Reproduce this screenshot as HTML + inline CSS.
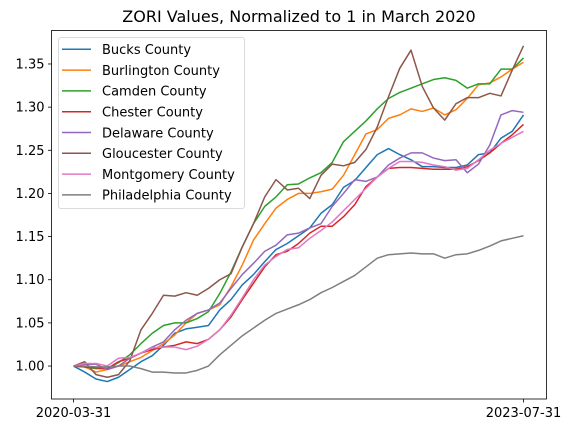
<!DOCTYPE html>
<html><head><meta charset="utf-8"><style>
body{margin:0;background:#fff;}
svg{display:block;font-family:"DejaVu Sans","Liberation Sans",sans-serif;}
</style></head><body>
<svg id="chart" width="574" height="433" viewBox="0 0 574 433">
<rect width="574" height="433" fill="#fff"/>
<text x="299" y="22" text-anchor="middle" font-size="16" fill="#000">ZORI Values, Normalized to 1 in March 2020</text>
<g id="series"></g>
<g id="axes"></g>
<g id="legend"></g>
</svg>
<script>
const xTickLabels = ["2020-03-31","2023-07-31"];
const yTicks = [1.00,1.05,1.10,1.15,1.20,1.25,1.30,1.35];
const seriesNames = ["Bucks County","Burlington County","Camden County","Chester County","Delaware County","Gloucester County","Montgomery County","Philadelphia County"];
const bucks = [1.000,0.993,0.985,0.982,0.987,0.996,1.005,1.012,1.024,1.038,1.043,1.045,1.047,1.065,1.077,1.094,1.106,1.121,1.135,1.142,1.151,1.160,1.177,1.187,1.207,1.215,1.230,1.245,1.252,1.245,1.239,1.231,1.231,1.230,1.230,1.233,1.245,1.247,1.264,1.272,1.291];
const burlington = [1.000,0.999,0.993,0.996,1.000,1.005,1.010,1.018,1.026,1.036,1.050,1.061,1.065,1.071,1.092,1.117,1.146,1.165,1.183,1.193,1.200,1.200,1.202,1.205,1.221,1.245,1.269,1.274,1.287,1.291,1.298,1.295,1.299,1.291,1.297,1.310,1.326,1.328,1.335,1.344,1.352];
const camden = [1.000,0.999,0.997,0.997,1.004,1.013,1.026,1.038,1.047,1.050,1.050,1.055,1.063,1.084,1.109,1.138,1.165,1.185,1.196,1.210,1.211,1.218,1.224,1.236,1.260,1.272,1.284,1.298,1.310,1.317,1.322,1.327,1.332,1.334,1.331,1.322,1.327,1.327,1.344,1.344,1.357];
const chester = [1.000,0.999,0.998,0.997,1.005,1.009,1.015,1.019,1.022,1.024,1.028,1.026,1.031,1.042,1.057,1.077,1.096,1.115,1.129,1.133,1.142,1.154,1.162,1.162,1.173,1.187,1.208,1.219,1.229,1.230,1.230,1.229,1.228,1.228,1.228,1.231,1.238,1.247,1.258,1.268,1.280];
const delaware = [1.000,1.002,1.002,0.996,1.000,1.009,1.015,1.022,1.028,1.042,1.053,1.061,1.065,1.073,1.090,1.106,1.119,1.133,1.140,1.152,1.154,1.160,1.165,1.185,1.200,1.216,1.214,1.219,1.233,1.241,1.247,1.247,1.241,1.238,1.239,1.224,1.234,1.256,1.291,1.296,1.294];
const gloucester = [1.000,1.005,0.990,0.987,0.990,1.006,1.042,1.061,1.082,1.081,1.085,1.082,1.090,1.100,1.107,1.138,1.165,1.196,1.216,1.204,1.206,1.194,1.221,1.234,1.232,1.236,1.251,1.277,1.312,1.345,1.366,1.324,1.299,1.285,1.304,1.311,1.311,1.316,1.313,1.343,1.371];
const montgomery = [1.000,1.003,1.003,1.000,1.009,1.010,1.015,1.021,1.022,1.022,1.019,1.023,1.031,1.042,1.059,1.079,1.100,1.117,1.127,1.135,1.137,1.148,1.157,1.167,1.180,1.193,1.206,1.219,1.229,1.237,1.237,1.236,1.233,1.231,1.227,1.229,1.239,1.250,1.258,1.265,1.272];
const philadelphia = [1.000,1.000,0.999,0.999,1.000,1.000,0.997,0.993,0.993,0.992,0.992,0.995,1.000,1.013,1.024,1.035,1.044,1.053,1.061,1.066,1.071,1.077,1.085,1.091,1.098,1.105,1.115,1.125,1.129,1.130,1.131,1.130,1.130,1.125,1.129,1.130,1.134,1.139,1.145,1.148,1.151];
const allSeries = [bucks,burlington,camden,chester,delaware,gloucester,montgomery,philadelphia];
const colors = ["#1f77b4","#ff7f0e","#2ca02c","#d62728","#9467bd","#8c564b","#e377c2","#7f7f7f"];

const NS="http://www.w3.org/2000/svg";
const AX={l:51.5,r:546.5,t:30.5,b:399};
const nPts = bucks.length;
const x0=73.5, x1=523.5;
function xScale(i){return x0+(x1-x0)*i/(nPts-1);}
const vMin=0.9618, vMax=1.3888;
function yScale(v){return AX.b-(v-vMin)/(vMax-vMin)*(AX.b-AX.t);}
function mk(tag,attrs){const e=document.createElementNS(NS,tag);for(const k in attrs)e.setAttribute(k,attrs[k]);return e;}

const sg=document.getElementById('series');
allSeries.forEach((s,si)=>{
  const d=s.map((v,i)=>(i?'L':'M')+xScale(i).toFixed(2)+','+yScale(v).toFixed(2)).join(' ');
  const p=mk('path',{d:d,fill:'none',stroke:colors[si],'stroke-width':1.5,'stroke-linejoin':'round'});
  
  
  sg.appendChild(p);
});

const ag=document.getElementById('axes');
const frame=mk('rect',{x:AX.l,y:AX.t,width:AX.r-AX.l,height:AX.b-AX.t,fill:'none',stroke:'#000','stroke-width':0.8});


ag.appendChild(frame);
yTicks.forEach(v=>{
  const y=yScale(v);
  const t=mk('line',{x1:AX.l-3.5,x2:AX.l,y1:y,y2:y,stroke:'#000','stroke-width':0.8});
  
  
  ag.appendChild(t);
  const tx=mk('text',{x:AX.l-7,y:y+4.5,'text-anchor':'end','font-size':13,fill:'#000'});
  tx.textContent=v.toFixed(2);
  
  
  ag.appendChild(tx);
});
xTickLabels.forEach((lab,k)=>{
  const x=k===0?xScale(0):xScale(nPts-1);
  const t=mk('line',{x1:x,x2:x,y1:AX.b,y2:AX.b+3.5,stroke:'#000','stroke-width':0.8});
  
  
  ag.appendChild(t);
  const tx=mk('text',{x:x,y:AX.b+18,'text-anchor':'middle','font-size':13,fill:'#000'});
  tx.textContent=lab;
  
  
  ag.appendChild(tx);
});

const lg=document.getElementById('legend');
const box=mk('rect',{x:58.5,y:37.5,width:186,height:171,rx:2.5,fill:'#fff','fill-opacity':0.8,stroke:'#d0d0d0','stroke-width':0.8});


lg.appendChild(box);
seriesNames.forEach((n,i)=>{
  const y=49.3+i*20.8;
  const l=mk('line',{x1:62,x2:91,y1:y,y2:y,stroke:colors[i],'stroke-width':1.5});
  
  
  lg.appendChild(l);
  const t=mk('text',{x:102,y:y+4.8,'font-size':13,fill:'#000'});
  t.textContent=n;
  
  
  lg.appendChild(t);
});
</script>
</body></html>
